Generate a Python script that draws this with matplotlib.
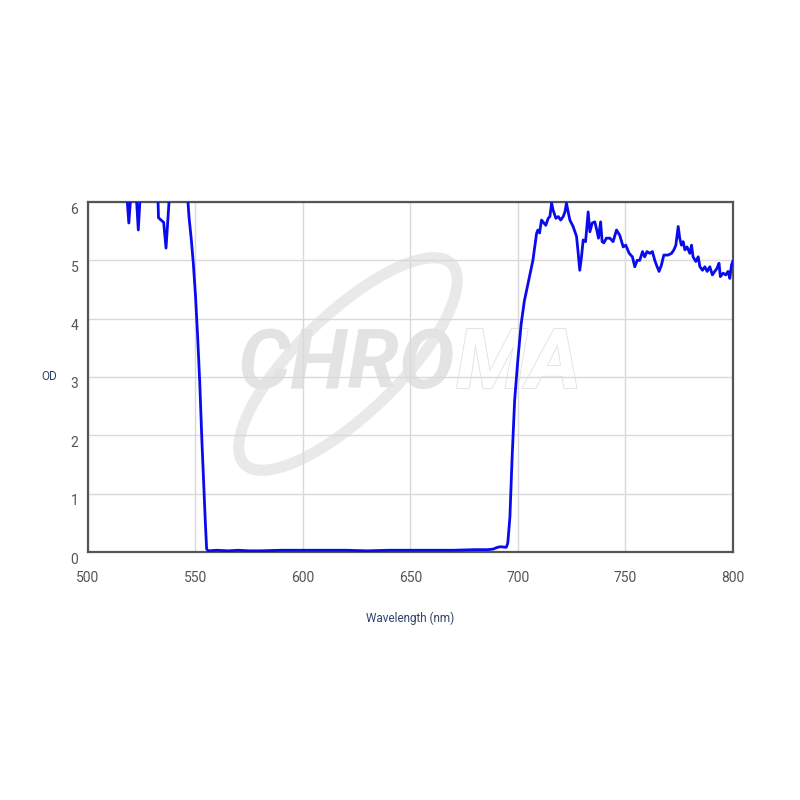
import matplotlib.pyplot as plt
import matplotlib.transforms as mtransforms
import matplotlib.patheffects as pe
from matplotlib.patches import Ellipse

# OD spectrum (values above 6 are clipped by the axis)
wavelength = [500, 505, 510, 515, 517.5, 519, 520.5, 522, 523.4, 524.7, 528, 532.3, 532.8,
              534, 535.2, 536.3, 538.4, 541, 545.8, 547, 548, 549, 550, 551, 552, 553, 554,
              554.6, 555.2, 556, 560, 565, 570, 575, 580, 590, 600, 610, 620, 630, 640, 650,
              660, 670, 680, 686, 688.5, 690.5, 692, 694.6, 695.3, 696.3, 697.3, 698.5, 700,
              701.5, 703, 705, 707, 708.7, 709.3, 710.1, 711, 712.1, 713, 714.1, 714.9, 715.7,
              716.4, 717.7, 718.8, 719.9, 721.1, 721.9, 722.6, 723.4, 724.2, 725.7, 727.3,
              728, 728.8, 729.6, 730.4, 731.5, 732.7, 733.5, 734.6, 735.8, 736.9, 737.5,
              738.5, 739.2, 740, 741.2, 742.8, 744.3, 745.9, 747.4, 749, 750.2, 751.8, 753.3,
              754.4, 755.5, 756.7, 758, 759, 760.1, 761.4, 762.6, 763.7, 764.8, 765.7, 766.8,
              767.9, 769.9, 771.5, 772.6, 773.5, 774.6, 775.3, 776.1, 776.9, 777.7, 778.7,
              780, 780.8, 781.5, 782.8, 783.9, 784.7, 785.9, 787, 788.1, 789.3, 790.5, 791.6,
              792.6, 793.6, 794.2, 795.5, 796.7, 797.8, 798.6, 799.4, 800]
od = [6.4, 6.4, 6.4, 6.4, 6.4, 5.64, 6.4, 6.4, 5.52, 6.4, 6.4, 6.4, 5.73,
      5.69, 5.65, 5.21, 6.4, 6.4, 6.4, 5.74, 5.38, 4.95, 4.4, 3.7, 2.9, 1.9, 1.0,
      0.5, 0.05, 0.02, 0.03, 0.02, 0.03, 0.02, 0.02, 0.03, 0.03, 0.03, 0.03, 0.02, 0.03, 0.03,
      0.03, 0.03, 0.04, 0.04, 0.05, 0.08, 0.09, 0.08, 0.15, 0.6, 1.6, 2.6, 3.3,
      3.9, 4.3, 4.65, 5.0, 5.46, 5.52, 5.47, 5.69, 5.64, 5.6, 5.72, 5.75, 5.98,
      5.86, 5.72, 5.75, 5.69, 5.75, 5.83, 5.98, 5.83, 5.69, 5.58, 5.41,
      5.15, 4.83, 5.06, 5.35, 5.32, 5.83, 5.49, 5.64, 5.66, 5.49, 5.38,
      5.66, 5.32, 5.3, 5.38, 5.38, 5.32, 5.52, 5.43, 5.23, 5.26, 5.12, 5.06,
      4.89, 5.0, 5.0, 5.15, 5.06, 5.15, 5.12, 5.15, 5.0, 4.89, 4.81, 4.92,
      5.09, 5.09, 5.12, 5.18, 5.26, 5.58, 5.38, 5.26, 5.32, 5.18, 5.23,
      5.12, 5.26, 5.06, 4.98, 5.06, 4.89, 4.83, 4.89, 4.81, 4.89, 4.75, 4.81,
      4.86, 4.95, 4.72, 4.78, 4.75, 4.81, 4.69, 4.92, 4.98]

x_ticks = [500, 550, 600, 650, 700, 750, 800]
y_ticks = [0, 1, 2, 3, 4, 5, 6]

plt.rcParams['font.family'] = ['Roboto', 'DejaVu Sans']

fig = plt.figure(figsize=(8, 8), dpi=100)
ax = fig.add_axes([0.11, 0.31, 0.806, 0.4375])

# faint CHROMA watermark, kept under the grid and the curve
ring = Ellipse((0.435, 0.545), 0.36, 0.125, angle=44, transform=fig.transFigure,
               fill=False, edgecolor='#e9e9e9', linewidth=8, zorder=0.1, clip_on=False)
ax.add_artist(ring)
ax.text(0.57, 0.543, 'CHRO', transform=fig.transFigure, ha='right', va='center',
        fontsize=60, fontweight='bold', fontstyle='italic', color='#e3e3e3',
        zorder=0.2, clip_on=False)
ma = ax.text(0.57, 0.543, 'MA', transform=fig.transFigure, ha='left', va='center',
             fontsize=60, fontweight='bold', fontstyle='italic', color='white',
             zorder=0.2, clip_on=False)
ma.set_path_effects([pe.Stroke(linewidth=1.2, foreground='#e0e0e0'), pe.Normal()])

ax.plot(wavelength, od, color='#0a0aee', linewidth=2, zorder=3)

ax.set_xlim(500, 800)
ax.set_ylim(0, 6)
ax.set_xticks(x_ticks)
ax.set_yticks(y_ticks)
ax.grid(True, color='#d9d9d9', linewidth=1, zorder=0.5)
ax.set_axisbelow(True)
ax.tick_params(length=0, labelsize=10, labelcolor='#555555')
ax.tick_params(axis='x', pad=14)
ax.tick_params(axis='y', pad=7)
shift = mtransforms.ScaledTranslation(0, -0.06, fig.dpi_scale_trans)
for lab in ax.get_yticklabels():
    lab.set_transform(lab.get_transform() + shift)
for s in ax.spines.values():
    s.set_color('#555555')
    s.set_linewidth(1.6)

ax.set_xlabel('Wavelength (nm)', fontsize=8.5, color='#2f4468', labelpad=19)
ax.set_ylabel('OD', fontsize=8.5, color='#2f4468', rotation=0, labelpad=15, va='center')

fig.savefig('out.png', dpi=100)
